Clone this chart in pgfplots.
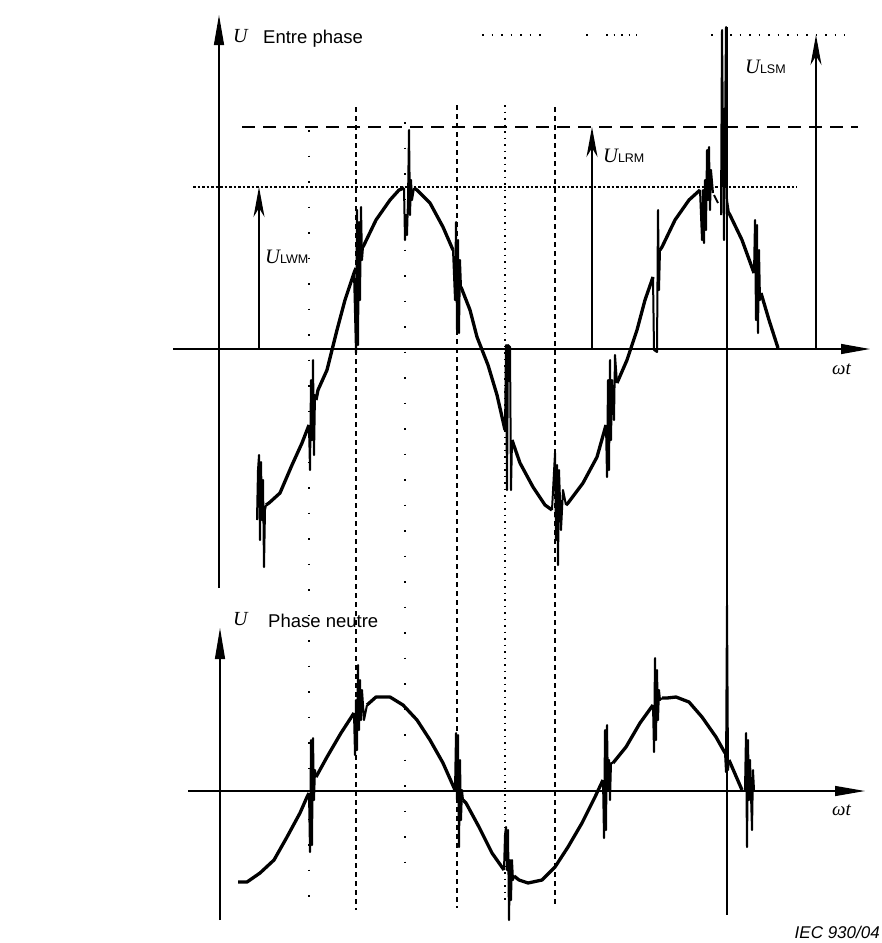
\documentclass[border=0pt]{standalone}
\usepackage{pgfplots}
\pgfplotsset{compat=1.18}
\usetikzlibrary{arrows.meta}
\usepackage{fontspec}
\setmainfont{Liberation Sans}
\newfontfamily\serif{Liberation Serif}
\begin{document}
\begin{tikzpicture}
\begin{axis}[hide axis, scale only axis, width=882pt, height=943pt,
  xmin=0, xmax=882, ymin=0, ymax=943, y dir=reverse, clip=false,
  every axis plot/.append style={black, line join=round}]
\path (axis cs:0,0) rectangle (axis cs:882,943);
% axes
\addplot[line width=1.3pt, -{Triangle[length=30pt,width=10pt]}] coordinates {(219,588) (219,15)};
\addplot[line width=1.3pt, -{Triangle[length=29pt,width=10pt]}] coordinates {(173,349) (870,349)};
\addplot[line width=1.3pt, -{Triangle[length=31pt,width=10pt]}] coordinates {(220,920) (220,628)};
\addplot[line width=1.3pt, -{Triangle[length=30pt,width=10pt]}] coordinates {(188,791) (865,791)};
% reference lines
\addplot[line width=1.3pt, dash pattern=on 13pt off 8pt] coordinates {(242,127) (858,127)};
\addplot[line width=1.4pt, dash pattern=on 2.5pt off 2pt] coordinates {(193,187) (797,187)};
\addplot[line width=1.3pt, dash pattern=on 1.5pt off 8pt] coordinates {(482,35) (541,35)};
\addplot[line width=1.3pt, dash pattern=on 1.5pt off 8pt] coordinates {(586,35) (588,35)};
\addplot[line width=1.3pt, dash pattern=on 1.5pt off 6pt] coordinates {(606,35) (637,35)};
\addplot[line width=1.3pt, dash pattern=on 1.5pt off 8pt] coordinates {(711,35) (845,35)};
\addplot[line width=1.2pt, dash pattern=on 5pt off 4pt] coordinates {(356,107) (356,910)};
\addplot[line width=1.2pt, dash pattern=on 5pt off 4pt] coordinates {(457,105) (457,908)};
\addplot[line width=1.2pt, dash pattern=on 5pt off 4pt] coordinates {(555,107) (555,907)};
\addplot[line width=1.4pt, dash pattern=on 1.5pt off 24pt] coordinates {(309,130) (309,908)};
\addplot[line width=1.4pt, dash pattern=on 1.5pt off 24pt] coordinates {(405,122) (405,880)};
\addplot[line width=1.3pt, dash pattern=on 1.5pt off 5pt] coordinates {(505,105) (505,902)};
\addplot[line width=1.3pt] coordinates {(727,27) (727,915)};
% U arrows
\addplot[line width=1.3pt, -{Stealth[length=30pt,width=11pt,inset=9pt]}] coordinates {(259,349) (259,187)};
\addplot[line width=1.3pt, -{Stealth[length=30pt,width=11pt,inset=9pt]}] coordinates {(592,349) (592,127)};
\addplot[line width=1.3pt, -{Stealth[length=30pt,width=11pt,inset=9pt]}] coordinates {(816,349) (816,35)};
% top waveform curves
\addplot[line width=3.3pt] coordinates {(266,505) (269,503) (280,493) (292,465) (302,443) (309,425)};
\addplot[line width=3.3pt] coordinates {(316,400) (318,390) (327,370) (332,350) (337,330) (345,300) (354,273) (356,268)};
\addplot[line width=3.3pt] coordinates {(363,247) (376,220) (390,200) (399,190) (404,188)};
\addplot[line width=3.3pt] coordinates {(414,188) (417,190) (430,203) (443,227) (453,250)};
\addplot[line width=3.3pt] coordinates {(461,287) (470,310) (477,337) (488,365) (497,395) (505,430)};
\addplot[line width=3.3pt] coordinates {(512,440) (520,463) (533,487) (545,505) (552,510)};
\addplot[line width=3.3pt] coordinates {(566,505) (568,503) (583,483) (597,457) (606,425)};
\addplot[line width=3.3pt] coordinates {(617,383) (627,360) (637,330) (645,300) (653,277)};
\addplot[line width=3.3pt] coordinates {(660,250) (662,247) (675,220) (689,200) (700,190)};
\addplot[line width=3.3pt] coordinates {(729,213) (742,240) (754,273)};
\addplot[line width=3.3pt] coordinates {(761,293) (769,320) (778,348)};
% top spikes
\addplot[line width=2pt] coordinates {(257,520) (258,470) (259,455) (260,540) (261,462) (262,520) (263,480) (264,567) (265,510) (266,505)};
\addplot[line width=2pt] coordinates {(309,425) (310,470) (311,380) (312,440) (313,360) (314,455) (315,395) (316,400)};
\addplot[line width=2pt] coordinates {(354,273) (356,353) (357,210) (358,345) (359,222) (360,300) (361,207) (362,260) (363,247)};
\addplot[line width=2pt] coordinates {(404,188) (405,240) (406,215) (407,235) (408,200) (409,130) (410,215) (411,180) (412,200) (414,188)};
\addplot[line width=2pt] coordinates {(453,250) (455,300) (456,222) (457,330) (458,240) (459,333) (460,260) (461,287)};
\addplot[line width=2pt] coordinates {(505,430) (506,345) (507,490) (508,345) (510,347) (511,490) (512,440)};
\addplot[line width=2pt] coordinates {(552,510) (555,453) (556,540) (557,465) (558,565) (559,470) (561,530) (563,490) (566,505)};
\addplot[line width=2pt] coordinates {(606,425) (607,477) (608,380) (609,470) (610,360) (611,440) (612,380) (614,420) (615,355) (617,383)};
\addplot[line width=2pt] coordinates {(653,277) (654,350) (657,352) (658,210) (659,290) (660,250)};
\addplot[line width=2pt] coordinates {(700,190) (702,240) (703,190) (704,243) (705,180) (706,230) (707,150) (708,200) (709,147) (710,210) (711,170) (713,193)};
\addplot[line width=2pt] coordinates {(714,195) (718,203)};
\addplot[line width=2pt] coordinates {(721,215) (722,30) (724,240) (726,27) (727,200) (729,213)};
\addplot[line width=2pt] coordinates {(754,273) (755,220) (756,320) (757,225) (758,333) (759,250) (760,300) (761,293)};
% lower waveform curves
\addplot[line width=3.3pt] coordinates {(238,882) (247,882) (260,873) (274,860) (287,837) (300,813) (307,797) (309,793)};
\addplot[line width=3.3pt] coordinates {(316,777) (327,757) (341,733) (354,713)};
\addplot[line width=3.3pt] coordinates {(367,705) (376,697) (390,697) (403,705) (417,720) (430,740) (443,763) (455,790)};
\addplot[line width=3.3pt] coordinates {(463,800) (466,803) (479,827) (492,853) (504,870)};
\addplot[line width=3.3pt] coordinates {(514,876) (519,880) (528,883) (542,880) (555,867) (568,847) (582,823) (595,797) (603,780)};
\addplot[line width=3.3pt] coordinates {(613,763) (626,747) (640,723) (653,705)};
\addplot[line width=3.3pt] coordinates {(662,698) (667,698) (676,697) (689,702) (702,717) (716,737) (725,753)};
\addplot[line width=3.3pt] coordinates {(729,760) (742,790)};
% lower spikes
\addplot[line width=2pt] coordinates {(309,793) (310,852) (311,740) (312,845) (313,738) (314,800) (315,770) (316,777)};
\addplot[line width=2pt] coordinates {(354,713) (355,755) (356,700) (357,750) (358,665) (359,730) (360,680) (361,720) (362,690) (364,720) (367,705)};
\addplot[line width=2pt] coordinates {(455,790) (456,733) (457,800) (458,735) (459,847) (460,760) (461,820) (462,790) (463,800)};
\addplot[line width=2pt] coordinates {(504,870) (505,835) (506,827) (507,870) (508,830) (509,920) (510,860) (511,900) (512,860) (513,880) (514,876)};
\addplot[line width=2pt] coordinates {(603,780) (604,838) (605,730) (606,830) (607,725) (608,790) (609,760) (610,800) (611,763) (613,763)};
\addplot[line width=2pt] coordinates {(653,705) (654,752) (655,658) (656,740) (657,670) (658,720) (659,690) (660,700) (662,698)};
\addplot[line width=2pt] coordinates {(725,753) (726,772) (727,605) (728,770) (729,760)};
\addplot[line width=2pt] coordinates {(745,790) (746,733) (747,847) (748,740) (749,800) (750,760) (752,830) (753,770) (754,790)};
% labels
\node[anchor=base west, inner sep=0pt] at (axis cs:233,42) {\fontsize{20}{20}\selectfont\serif\itshape U};
\node[anchor=base west, inner sep=0pt] at (axis cs:263,43) {\fontsize{18.5}{18.5}\selectfont Entre phase};
\node[anchor=base west, inner sep=0pt] at (axis cs:233,625) {\fontsize{20}{20}\selectfont\serif\itshape U};
\node[anchor=base west, inner sep=0pt] at (axis cs:268,627) {\fontsize{18.5}{18.5}\selectfont Phase neutre};
\node[anchor=base west, inner sep=0pt] at (axis cs:832,374) {\fontsize{19}{19}\selectfont\serif\itshape ωt};
\node[anchor=base west, inner sep=0pt] at (axis cs:832,815) {\fontsize{19}{19}\selectfont\serif\itshape ωt};
\node[anchor=base west, inner sep=0pt] at (axis cs:265,263) {\fontsize{20.5}{20.5}\selectfont\serif\itshape U\fontsize{12.5}{12.5}\selectfont\upshape\rmfamily LWM};
\node[anchor=base west, inner sep=0pt] at (axis cs:603,162) {\fontsize{20.5}{20.5}\selectfont\serif\itshape U\fontsize{12.5}{12.5}\selectfont\upshape\rmfamily LRM};
\node[anchor=base west, inner sep=0pt] at (axis cs:745,73) {\fontsize{20.5}{20.5}\selectfont\serif\itshape U\fontsize{12.5}{12.5}\selectfont\upshape\rmfamily LSM};
\node[anchor=base east, inner sep=0pt] at (axis cs:880,938) {\fontsize{17}{17}\selectfont\itshape IEC 930/04};
\end{axis}
\end{tikzpicture}
\end{document}
